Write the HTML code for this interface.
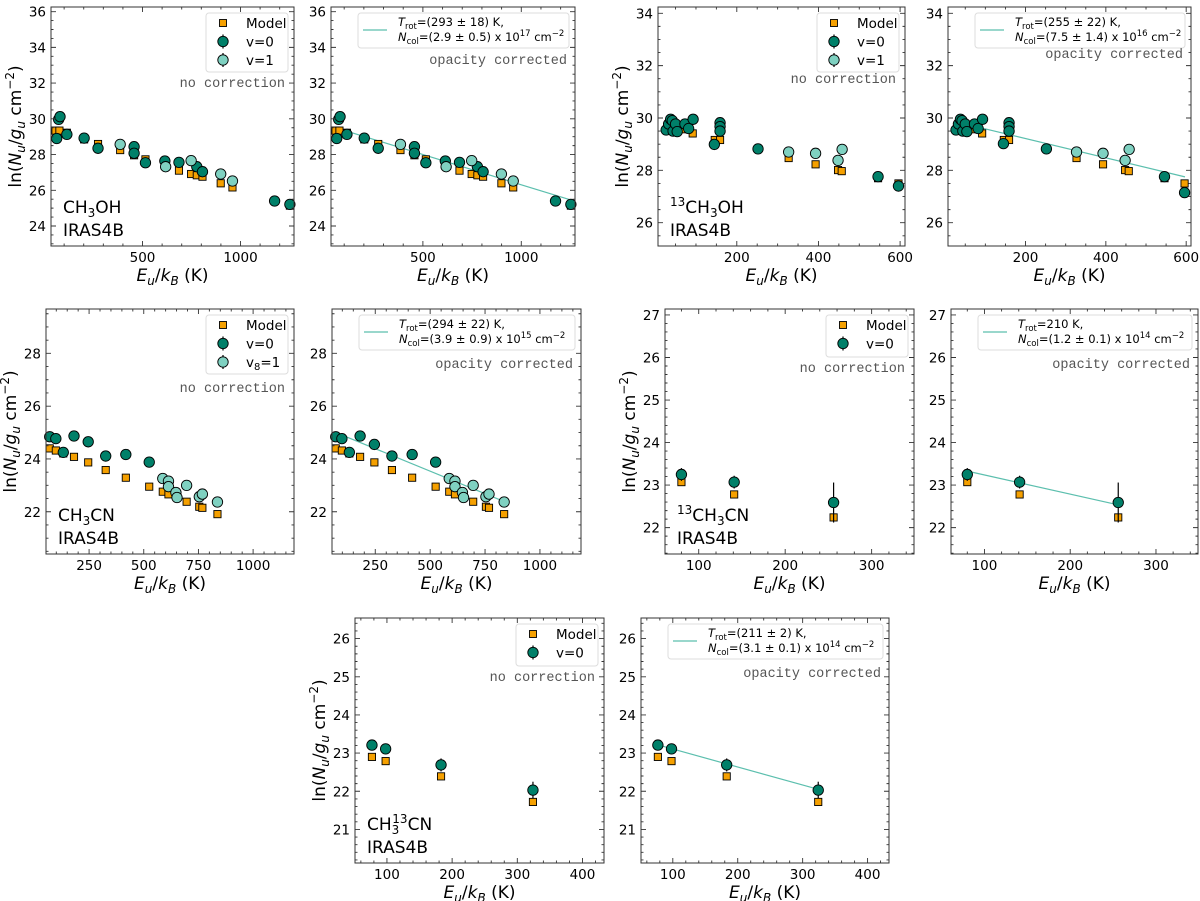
<!DOCTYPE html>
<html><head><meta charset="utf-8"><style>
html,body{margin:0;padding:0;background:#fff;}
svg{display:block;font-family:"DejaVu Sans","Liberation Sans",sans-serif;}
</style></head><body>
<svg id="fig" width="1200" height="901" viewBox="0 0 1200 901" xmlns="http://www.w3.org/2000/svg"></svg>
<script>
// ---- CH3OH (panels A, B) ----
const A_modelX=[56,76,114,202,273,386,457,515,686,748,777,806,899,959,1252];
const A_modelY=[29.34,29.34,29.22,28.85,28.59,28.25,27.96,27.73,27.1,26.91,26.84,26.76,26.39,26.16,25.14];
const A_v0X=[62,72,79,114,202,273,457,457,515,614,686,777,806,1174,1252];
const A_v0Y=[28.9,29.97,30.12,29.13,28.92,28.35,28.44,28.07,27.54,27.64,27.56,27.32,27.04,25.4,25.21];
const A_v0E=[0.1,0.1,0.1,0.1,0.1,0.1,0.1,0.1,0.1,0.1,0.1,0.1,0.1,0.1,0.1];
const A_v1X=[386,618,748,899,959];
const A_v1Y=[28.57,27.32,27.66,26.91,26.52];
const A_v1E=[0.1,0.1,0.1,0.1,0.1];
const B_fitX=[72,1268];
const B_fitY=[29.45,25.4];
// ---- 13CH3OH (panels C, D) ----
const C_modelX=[44,54,68,92,146,159,327,393,448,457,546,596];
const C_modelY=[29.66,29.57,29.57,29.41,29.16,29.16,28.47,28.23,28.01,27.97,27.7,27.5];
const C_v0X=[27,33,38,42,44,50,54,73,82,93,145,159,159,159,252,546,596];
const C_v0Y=[29.54,29.77,29.95,29.9,29.5,29.77,29.48,29.77,29.6,29.95,28.99,29.82,29.67,29.5,28.82,27.76,27.4];
const C_v0E=[0.05,0.05,0.05,0.05,0.05,0.05,0.05,0.05,0.05,0.05,0.05,0.05,0.05,0.05,0.05,0.08,0.2];
const D_v0Y=[29.54,29.77,29.95,29.9,29.5,29.77,29.48,29.77,29.6,29.95,29.02,29.82,29.67,29.5,28.82,27.76,27.15];
const C_v1X=[327,393,448,458];
const C_v1Y=[28.7,28.65,28.38,28.8];
const C_v1E=[0.05,0.05,0.05,0.05];
const D_fitX=[90,597];
const D_fitY=[29.62,27.75];
// ---- CH3CN (panels E, F) ----
const E_modelX=[70,98,132,181,246,326,418,525,587,613,696,754,768,837];
const E_modelY=[24.4,24.32,24.21,24.08,23.87,23.58,23.29,22.95,22.76,22.66,22.38,22.19,22.15,21.91];
const E_v0X=[70,98,132,181,246,326,418,525];
const E_v0Y=[24.84,24.77,24.25,24.87,24.65,24.11,24.17,23.88];
const F_v0Y=[24.84,24.77,24.25,24.87,24.55,24.11,24.17,23.88];
const E_v0E=[0.06,0.06,0.06,0.06,0.06,0.06,0.06,0.06];
const E_v1X=[587,613,613,647,652,696,754,768,837];
const E_v1Y=[23.26,23.16,22.95,22.73,22.54,23.0,22.57,22.67,22.37];
const E_v1E=[0.06,0.06,0.06,0.06,0.06,0.06,0.1,0.15,0.06];
const F_fitX=[118,822];
const F_fitY=[24.84,22.44];
// ---- 13CH3CN (panels G, H) ----
const G_modelX=[80,141,256];
const G_modelY=[23.07,22.78,22.24];
const G_v0X=[80,141,256];
const G_v0Y=[23.25,23.07,22.59];
const G_v0E=[0.15,0.15,0.47];
const H_fitX=[82,257];
const H_fitY=[23.32,22.53];
// ---- CH3 13CN (panels I, J) ----
const I_modelX=[77,98,183,324];
const I_modelY=[22.9,22.79,22.39,21.72];
const I_v0X=[77,98,183,324];
const I_v0Y=[23.21,23.11,22.69,22.03];
const I_v0E=[0.1,0.12,0.17,0.22];
const J_fitX=[74,324];
const J_fitY=[23.23,22.05];
// ---- tick labels ----
const xTicksA=[500,1000], yTicksA=[24,26,28,30,32,34,36];
const xTicksC=[200,400,600], yTicksC=[26,28,30,32,34];
const xTicksE=[250,500,750,1000], yTicksE=[22,24,26,28];
const xTicksG=[100,200,300], yTicksG=[22,23,24,25,26,27];
const xTicksI=[100,200,300,400], yTicksI=[21,22,23,24,25,26];

const NS='http://www.w3.org/2000/svg';
const svg=document.getElementById('fig');
function mk(parent,tag,attrs){const e=document.createElementNS(NS,tag);for(const k in attrs)e.setAttribute(k,attrs[k]);parent.appendChild(e);return e;}
const C_MODEL='#f5a000', C_V0='#008069', C_V1='#7fd1c1', C_FIT='#5cbfae';

function drawPanel(c){
  const g=mk(svg,'g',{});
  
  
  const sx=v=>c.x0+(v-c.xmin)/(c.xmax-c.xmin)*(c.x1-c.x0);
  const sy=v=>c.y1-(v-c.ymin)/(c.ymax-c.ymin)*(c.y1-c.y0);
  // fit line
  if(c.fitX){
    const fl=mk(g,'line',{x1:sx(c.fitX[0]),y1:sy(c.fitY[0]),x2:sx(c.fitX[1]),y2:sy(c.fitY[1]),stroke:C_FIT,'stroke-width':1.2});
    
    
  }
  // model squares
  for(let i=0;i<c.mX.length;i++){
    const r=mk(g,'rect',{x:sx(c.mX[i])-3.6,y:sy(c.mY[i])-3.6,width:7.2,height:7.2,fill:C_MODEL,stroke:'#000','stroke-width':0.9});
    
    
  }
  function circles(X,Y,E,col,nm){
    for(let i=0;i<X.length;i++){
      const cx=sx(X[i]),cy=sy(Y[i]);
      const eb=mk(g,'line',{x1:cx,x2:cx,y1:sy(Y[i]+E[i]),y2:sy(Y[i]-E[i]),stroke:'#000','stroke-width':1.2});
      
      
      const ci=mk(g,'circle',{cx:cx,cy:cy,r:5.2,fill:col,stroke:'#000','stroke-width':0.9});
      
      
    }
  }
  circles(c.v0X,c.v0Y,c.v0E,C_V0,'v0');
  if(c.v1X) circles(c.v1X,c.v1Y,c.v1E,C_V1,'v1');
  // frame
  const fr=mk(g,'rect',{x:c.x0,y:c.y0,width:c.x1-c.x0,height:c.y1-c.y0,fill:'none',stroke:'#333','stroke-width':1});
  
  
  // ticks
  let tp='';
  const addX=(v,L)=>{const x=sx(v);tp+=`M${x},${c.y1}v${-L}M${x},${c.y0}v${L}`;};
  const addY=(v,L)=>{const y=sy(v);tp+=`M${c.x0},${y}h${L}M${c.x1},${y}h${-L}`;};
  for(let v=Math.ceil(c.xmin/c.xMin)*c.xMin;v<=c.xmax;v+=c.xMin){const vv=Math.round(v*1000)/1000;addX(vv,c.xT.some(t=>Math.abs(t-vv)<1e-6)?5:2.5);}
  for(let k=Math.ceil(c.ymin/c.yMin);k*c.yMin<=c.ymax;k++){const vv=Math.round(k*c.yMin*1000)/1000;addY(vv,c.yT.some(t=>Math.abs(t-vv)<1e-6)?5:2.5);}
  const tk=mk(g,'path',{d:tp,stroke:'#333','stroke-width':0.9,fill:'none'});
  
  
  for(const v of c.xT){
    const t=mk(g,'text',{x:sx(v),y:c.y1+16,'text-anchor':'middle','font-size':13.5,fill:'#000'});
    
    
    t.textContent=v;
  }
  for(const v of c.yT){
    const t=mk(g,'text',{x:c.x0-5,y:sy(v)+5,'text-anchor':'end','font-size':13.5,fill:'#000'});
    
    
    t.textContent=v;
  }
  // axis titles
  const xt=mk(g,'text',{x:(c.x0+c.x1)/2,y:c.y1+35,'text-anchor':'middle','font-size':17,fill:'#000'});
  
  
  xt.innerHTML='<tspan font-style="italic">E</tspan><tspan font-style="italic" font-size="12" dy="4">u</tspan><tspan dy="-4">/</tspan><tspan font-style="italic">k</tspan><tspan font-style="italic" font-size="12" dy="4">B</tspan><tspan dy="-4"> (K)</tspan>';
  if(c.ylab){
    const yc=(c.y0+c.y1)/2, xc=c.x0-30;
    const yt=mk(g,'text',{x:xc,y:yc,'text-anchor':'middle','font-size':17,fill:'#000',transform:`rotate(-90 ${xc} ${yc})`});
    
    
    yt.innerHTML='ln(<tspan font-style="italic">N</tspan><tspan font-style="italic" font-size="12" dy="4">u</tspan><tspan dy="-4">/</tspan><tspan font-style="italic">g</tspan><tspan font-style="italic" font-size="12" dy="4">u</tspan><tspan dy="-4"> cm</tspan><tspan font-size="12" dy="-7">−2</tspan><tspan dy="7">)</tspan>';
  }
  // legend
  if(c.legend==='markers'){
    const n=c.v1X?3:2, h=n===3?59:42, w=82, bx=c.x1-6-w, by=c.y0+6;
    const lg=mk(g,'g',{});
    
    
    mk(lg,'rect',{x:bx,y:by,width:w,height:h,rx:3,fill:'#fff',stroke:'#ddd','stroke-width':1});
    const rows=[['Model',C_MODEL,'sq'],['v=0',C_V0,'ci'],[c.v1lab||'v=1',C_V1,'ci']].slice(0,n);
    rows.forEach((r,i)=>{
      const yy=by+10+i*18.5, mx=bx+17;
      const ent=mk(lg,'g',{});
      
      
      if(r[2]==='sq') mk(ent,'rect',{x:mx-3.5,y:yy-3.5,width:7,height:7,fill:r[1],stroke:'#000','stroke-width':0.9});
      else {mk(ent,'line',{x1:mx,x2:mx,y1:yy-7,y2:yy+7,stroke:'#000','stroke-width':1.2});mk(ent,'circle',{cx:mx,cy:yy,r:5.2,fill:r[1],stroke:'#000','stroke-width':0.9});}
      const t=mk(ent,'text',{x:bx+40,y:yy+5,'font-size':13.5,fill:'#000'});
      if(r[0]==='v8=1') t.innerHTML='v<tspan font-size="10" dy="3">8</tspan><tspan dy="-3">=1</tspan>'; else t.textContent=r[0];
    });
    const nc=mk(g,'text',{x:c.x1-9,y:c.y0+c.ncY,'text-anchor':'end','font-size':13.5,fill:'#555','font-family':'Liberation Mono, DejaVu Sans Mono, monospace'});
    
    
    nc.textContent='no correction';
  } else {
    const bx=c.x0+27, by=c.y0+6, w=c.x1-6-bx, h=35;
    const lg=mk(g,'g',{});
    
    
    mk(lg,'rect',{x:bx,y:by,width:w,height:h,rx:3,fill:'#fff',stroke:'#ddd','stroke-width':1});
    mk(lg,'line',{x1:bx+5,x2:bx+29,y1:by+17,y2:by+17,stroke:C_FIT,'stroke-width':1.2});
    const t1=mk(lg,'text',{x:bx+40,y:by+13,'font-size':11.5,fill:'#000'});
    t1.innerHTML='<tspan font-style="italic">T</tspan><tspan font-size="8.5" dy="3">rot</tspan><tspan dy="-3">='+c.tr+'</tspan>';
    const t2=mk(lg,'text',{x:bx+40,y:by+28,'font-size':11.5,fill:'#000'});
    t2.innerHTML='<tspan font-style="italic">N</tspan><tspan font-size="8.5" dy="3">col</tspan><tspan dy="-3">='+c.nc+' x 10</tspan><tspan font-size="8.5" dy="-5">'+c.exp+'</tspan><tspan dy="5"> cm</tspan><tspan font-size="8.5" dy="-5">−2</tspan>';
    const oc=mk(g,'text',{x:c.x1-8,y:c.y0+c.ncY,'text-anchor':'end','font-size':13.5,fill:'#555','font-family':'Liberation Mono, DejaVu Sans Mono, monospace'});
    
    
    oc.textContent='opacity corrected';
  }
  // molecule label
  if(c.mol){
    const m=mk(g,'text',{x:c.x0+12,y:c.y1-33,'font-size':17,fill:'#000'});
    
    
    m.innerHTML=c.mol;
    const s=mk(g,'text',{x:c.x0+12,y:c.y1-10,'font-size':17,fill:'#000'});
    
    
    s.textContent='IRAS4B';
  }
}
const sub=d=>'<tspan font-size="12" dy="4">'+d+'</tspan><tspan dy="-4">';
const sup=d=>'<tspan font-size="12" dy="-7">'+d+'</tspan><tspan dy="7">';
const rowA={y0:7,y1:246,xmin:33,xmax:1273,ymin:22.88,ymax:36.26,xT:xTicksA,xMin:100,yT:yTicksA,yMin:0.5,mX:A_modelX,mY:A_modelY,v0X:A_v0X,v0E:A_v0E,v1X:A_v1X,v1Y:A_v1Y,v1E:A_v1E};
drawPanel(Object.assign({},rowA,{name:'panel-ch3oh-no-correction',x0:51,x1:294,v0Y:A_v0Y,ylab:1,legend:'markers',ncY:80,mol:'CH'+sub('3')+'OH</tspan>'}));
drawPanel(Object.assign({},rowA,{name:'panel-ch3oh-opacity-corrected',x0:331,x1:575,v0Y:A_v0Y,legend:'fit',fitX:B_fitX,fitY:B_fitY,tr:'(293 ± 18) K,',nc:'(2.9 ± 0.5)',exp:'17',ncY:57}));
const rowC={y0:7,y1:246,xmin:7,xmax:612,ymin:25.11,ymax:34.24,xT:xTicksC,xMin:50,yT:yTicksC,yMin:0.5,mX:C_modelX,mY:C_modelY,v0X:C_v0X,v0E:C_v0E,v1X:C_v1X,v1Y:C_v1Y,v1E:C_v1E};
drawPanel(Object.assign({},rowC,{name:'panel-13ch3oh-no-correction',x0:658,x1:905,v0Y:C_v0Y,ylab:1,legend:'markers',ncY:76,mol:sup('13')+'CH'+sub('3')+'OH</tspan></tspan>'}));
drawPanel(Object.assign({},rowC,{name:'panel-13ch3oh-opacity-corrected',x0:948,x1:1191,v0Y:D_v0Y,legend:'fit',fitX:D_fitX,fitY:D_fitY,tr:'(255 ± 22) K,',nc:'(7.5 ± 1.4)',exp:'16',ncY:51}));
const rowE={y0:309,y1:554,xmin:53,xmax:1187,ymin:20.4,ymax:29.68,xT:xTicksE,xMin:50,yT:yTicksE,yMin:0.5,mX:E_modelX,mY:E_modelY,v0X:E_v0X,v0E:E_v0E,v1X:E_v1X,v1Y:E_v1Y,v1E:E_v1E,v1lab:'v8=1'};
drawPanel(Object.assign({},rowE,{name:'panel-ch3cn-no-correction',x0:46,x1:294,v0Y:E_v0Y,ylab:1,legend:'markers',ncY:83,mol:'CH'+sub('3')+'CN</tspan>'}));
drawPanel(Object.assign({},rowE,{name:'panel-ch3cn-opacity-corrected',x0:332,x1:581,v0Y:F_v0Y,legend:'fit',fitX:F_fitX,fitY:F_fitY,tr:'(294 ± 22) K,',nc:'(3.9 ± 0.9)',exp:'15',ncY:59}));
const rowG={y0:309,y1:554,xmin:61,xmax:349,ymin:21.38,ymax:27.14,xT:xTicksG,xMin:20,yT:yTicksG,yMin:0.2,mX:G_modelX,mY:G_modelY,v0X:G_v0X,v0Y:G_v0Y,v0E:G_v0E};
drawPanel(Object.assign({},rowG,{name:'panel-13ch3cn-no-correction',x0:665,x1:914,ylab:1,legend:'markers',ncY:63,mol:sup('13')+'CH'+sub('3')+'CN</tspan></tspan>'}));
drawPanel(Object.assign({},rowG,{name:'panel-13ch3cn-opacity-corrected',x0:951,x1:1198,legend:'fit',fitX:H_fitX,fitY:H_fitY,tr:'210 K,',nc:'(1.2 ± 0.1)',exp:'14',ncY:59}));
const rowI={y0:618,y1:863,xmin:51,xmax:433,ymin:20.12,ymax:26.54,xT:xTicksI,xMin:20,yT:yTicksI,yMin:0.2,mX:I_modelX,mY:I_modelY,v0X:I_v0X,v0Y:I_v0Y,v0E:I_v0E};
drawPanel(Object.assign({},rowI,{name:'panel-ch3-13cn-no-correction',x0:355,x1:604,ylab:1,legend:'markers',ncY:63,mol:'CH<tspan font-size="12" dy="4">3</tspan><tspan font-size="12" dx="-7" dy="-11">13</tspan><tspan dy="7">CN</tspan>'}));
drawPanel(Object.assign({},rowI,{name:'panel-ch3-13cn-opacity-corrected',x0:641,x1:889,legend:'fit',fitX:J_fitX,fitY:J_fitY,tr:'(211 ± 2) K,',nc:'(3.1 ± 0.1)',exp:'14',ncY:59}));
</script>
</body></html>
